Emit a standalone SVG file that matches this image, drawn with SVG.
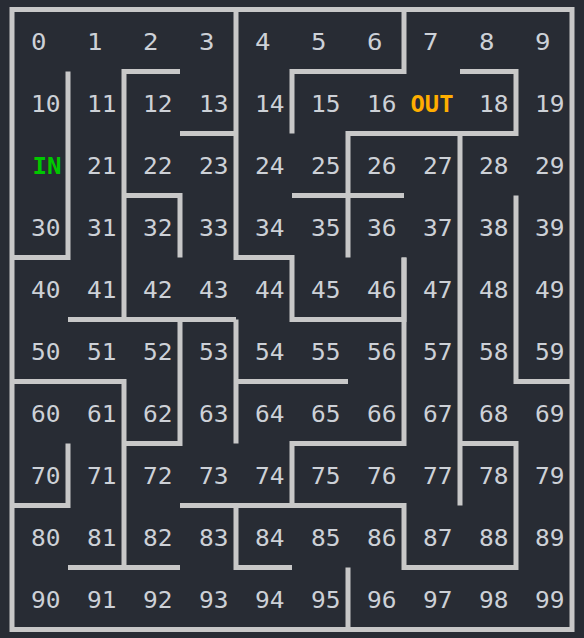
<svg xmlns="http://www.w3.org/2000/svg" width="584" height="638" viewBox="0 0 584 638">
<style>
.w{fill:none;stroke:#c8c8c8;stroke-width:5;stroke-linecap:butt;stroke-linejoin:miter}
.t{font-family:"DejaVu Sans Mono",monospace;font-size:23px;fill:#cdd1d7}
.in{font-family:"DejaVu Sans Mono",monospace;font-size:23px;font-weight:bold;fill:#00c800}
.out{font-family:"DejaVu Sans Mono",monospace;font-size:23px;font-weight:bold;fill:#ffae00}
</style>
<rect width="584" height="638" fill="#282c34"/>
<g id="walls">
<rect class="w" x="12" y="9.5" width="560" height="620"/>
<path class="w" d="M68,71.5V257.5H12"/>
<path class="w" d="M180,71.5H124V319.5"/>
<path class="w" d="M68,319.5H236"/>
<path class="w" d="M236,9.5V257.5H292V319.5H404V257.5"/>
<path class="w" d="M180,133.5H236"/>
<path class="w" d="M124,195.5H180V257.5"/>
<path class="w" d="M404,9.5V71.5H292V133.5"/>
<path class="w" d="M460,71.5H516V133.5H348V257.5"/>
<path class="w" d="M292,195.5H404"/>
<path class="w" d="M460,133.5V505.5"/>
<path class="w" d="M516,195.5V381.5H572"/>
<path class="w" d="M236,319.5V443.5"/>
<path class="w" d="M236,381.5H348"/>
<path class="w" d="M180,319.5V443.5H124"/>
<path class="w" d="M12,381.5H124V567.5"/>
<path class="w" d="M68,443.5V505.5H12"/>
<path class="w" d="M68,567.5H180"/>
<path class="w" d="M180,505.5H404V567.5H516V443.5H460"/>
<path class="w" d="M236,505.5V567.5H292"/>
<path class="w" d="M348,567.5V629.5"/>
<path class="w" d="M404,257.5V443.5H292V505.5"/>
</g>
<g id="labels">
<g id="row0">
<text class="t" x="31" y="50" textLength="15.5" lengthAdjust="spacingAndGlyphs">0</text><text class="t" x="87" y="50" textLength="15.5" lengthAdjust="spacingAndGlyphs">1</text><text class="t" x="143" y="50" textLength="15.5" lengthAdjust="spacingAndGlyphs">2</text><text class="t" x="199" y="50" textLength="15.5" lengthAdjust="spacingAndGlyphs">3</text><text class="t" x="255" y="50" textLength="15.5" lengthAdjust="spacingAndGlyphs">4</text><text class="t" x="311" y="50" textLength="15.5" lengthAdjust="spacingAndGlyphs">5</text><text class="t" x="367" y="50" textLength="15.5" lengthAdjust="spacingAndGlyphs">6</text><text class="t" x="423" y="50" textLength="15.5" lengthAdjust="spacingAndGlyphs">7</text><text class="t" x="479" y="50" textLength="15.5" lengthAdjust="spacingAndGlyphs">8</text><text class="t" x="535" y="50" textLength="15.5" lengthAdjust="spacingAndGlyphs">9</text>
</g>
<g id="row1">
<text class="t" x="31" y="112" textLength="29.5" lengthAdjust="spacingAndGlyphs">10</text><text class="t" x="87" y="112" textLength="29.5" lengthAdjust="spacingAndGlyphs">11</text><text class="t" x="143" y="112" textLength="29.5" lengthAdjust="spacingAndGlyphs">12</text><text class="t" x="199" y="112" textLength="29.5" lengthAdjust="spacingAndGlyphs">13</text><text class="t" x="255" y="112" textLength="29.5" lengthAdjust="spacingAndGlyphs">14</text><text class="t" x="311" y="112" textLength="29.5" lengthAdjust="spacingAndGlyphs">15</text><text class="t" x="367" y="112" textLength="29.5" lengthAdjust="spacingAndGlyphs">16</text><text class="out" id="out" x="410.5" y="112" textLength="43" lengthAdjust="spacingAndGlyphs">OUT</text><text class="t" x="479" y="112" textLength="29.5" lengthAdjust="spacingAndGlyphs">18</text><text class="t" x="535" y="112" textLength="29.5" lengthAdjust="spacingAndGlyphs">19</text>
</g>
<g id="row2">
<text class="in" id="in" x="32.5" y="174" textLength="29" lengthAdjust="spacingAndGlyphs">IN</text><text class="t" x="87" y="174" textLength="29.5" lengthAdjust="spacingAndGlyphs">21</text><text class="t" x="143" y="174" textLength="29.5" lengthAdjust="spacingAndGlyphs">22</text><text class="t" x="199" y="174" textLength="29.5" lengthAdjust="spacingAndGlyphs">23</text><text class="t" x="255" y="174" textLength="29.5" lengthAdjust="spacingAndGlyphs">24</text><text class="t" x="311" y="174" textLength="29.5" lengthAdjust="spacingAndGlyphs">25</text><text class="t" x="367" y="174" textLength="29.5" lengthAdjust="spacingAndGlyphs">26</text><text class="t" x="423" y="174" textLength="29.5" lengthAdjust="spacingAndGlyphs">27</text><text class="t" x="479" y="174" textLength="29.5" lengthAdjust="spacingAndGlyphs">28</text><text class="t" x="535" y="174" textLength="29.5" lengthAdjust="spacingAndGlyphs">29</text>
</g>
<g id="row3">
<text class="t" x="31" y="236" textLength="29.5" lengthAdjust="spacingAndGlyphs">30</text><text class="t" x="87" y="236" textLength="29.5" lengthAdjust="spacingAndGlyphs">31</text><text class="t" x="143" y="236" textLength="29.5" lengthAdjust="spacingAndGlyphs">32</text><text class="t" x="199" y="236" textLength="29.5" lengthAdjust="spacingAndGlyphs">33</text><text class="t" x="255" y="236" textLength="29.5" lengthAdjust="spacingAndGlyphs">34</text><text class="t" x="311" y="236" textLength="29.5" lengthAdjust="spacingAndGlyphs">35</text><text class="t" x="367" y="236" textLength="29.5" lengthAdjust="spacingAndGlyphs">36</text><text class="t" x="423" y="236" textLength="29.5" lengthAdjust="spacingAndGlyphs">37</text><text class="t" x="479" y="236" textLength="29.5" lengthAdjust="spacingAndGlyphs">38</text><text class="t" x="535" y="236" textLength="29.5" lengthAdjust="spacingAndGlyphs">39</text>
</g>
<g id="row4">
<text class="t" x="31" y="297.5" textLength="29.5" lengthAdjust="spacingAndGlyphs">40</text><text class="t" x="87" y="297.5" textLength="29.5" lengthAdjust="spacingAndGlyphs">41</text><text class="t" x="143" y="297.5" textLength="29.5" lengthAdjust="spacingAndGlyphs">42</text><text class="t" x="199" y="297.5" textLength="29.5" lengthAdjust="spacingAndGlyphs">43</text><text class="t" x="255" y="297.5" textLength="29.5" lengthAdjust="spacingAndGlyphs">44</text><text class="t" x="311" y="297.5" textLength="29.5" lengthAdjust="spacingAndGlyphs">45</text><text class="t" x="367" y="297.5" textLength="29.5" lengthAdjust="spacingAndGlyphs">46</text><text class="t" x="423" y="297.5" textLength="29.5" lengthAdjust="spacingAndGlyphs">47</text><text class="t" x="479" y="297.5" textLength="29.5" lengthAdjust="spacingAndGlyphs">48</text><text class="t" x="535" y="297.5" textLength="29.5" lengthAdjust="spacingAndGlyphs">49</text>
</g>
<g id="row5">
<text class="t" x="31" y="359.5" textLength="29.5" lengthAdjust="spacingAndGlyphs">50</text><text class="t" x="87" y="359.5" textLength="29.5" lengthAdjust="spacingAndGlyphs">51</text><text class="t" x="143" y="359.5" textLength="29.5" lengthAdjust="spacingAndGlyphs">52</text><text class="t" x="199" y="359.5" textLength="29.5" lengthAdjust="spacingAndGlyphs">53</text><text class="t" x="255" y="359.5" textLength="29.5" lengthAdjust="spacingAndGlyphs">54</text><text class="t" x="311" y="359.5" textLength="29.5" lengthAdjust="spacingAndGlyphs">55</text><text class="t" x="367" y="359.5" textLength="29.5" lengthAdjust="spacingAndGlyphs">56</text><text class="t" x="423" y="359.5" textLength="29.5" lengthAdjust="spacingAndGlyphs">57</text><text class="t" x="479" y="359.5" textLength="29.5" lengthAdjust="spacingAndGlyphs">58</text><text class="t" x="535" y="359.5" textLength="29.5" lengthAdjust="spacingAndGlyphs">59</text>
</g>
<g id="row6">
<text class="t" x="31" y="421.5" textLength="29.5" lengthAdjust="spacingAndGlyphs">60</text><text class="t" x="87" y="421.5" textLength="29.5" lengthAdjust="spacingAndGlyphs">61</text><text class="t" x="143" y="421.5" textLength="29.5" lengthAdjust="spacingAndGlyphs">62</text><text class="t" x="199" y="421.5" textLength="29.5" lengthAdjust="spacingAndGlyphs">63</text><text class="t" x="255" y="421.5" textLength="29.5" lengthAdjust="spacingAndGlyphs">64</text><text class="t" x="311" y="421.5" textLength="29.5" lengthAdjust="spacingAndGlyphs">65</text><text class="t" x="367" y="421.5" textLength="29.5" lengthAdjust="spacingAndGlyphs">66</text><text class="t" x="423" y="421.5" textLength="29.5" lengthAdjust="spacingAndGlyphs">67</text><text class="t" x="479" y="421.5" textLength="29.5" lengthAdjust="spacingAndGlyphs">68</text><text class="t" x="535" y="421.5" textLength="29.5" lengthAdjust="spacingAndGlyphs">69</text>
</g>
<g id="row7">
<text class="t" x="31" y="483.5" textLength="29.5" lengthAdjust="spacingAndGlyphs">70</text><text class="t" x="87" y="483.5" textLength="29.5" lengthAdjust="spacingAndGlyphs">71</text><text class="t" x="143" y="483.5" textLength="29.5" lengthAdjust="spacingAndGlyphs">72</text><text class="t" x="199" y="483.5" textLength="29.5" lengthAdjust="spacingAndGlyphs">73</text><text class="t" x="255" y="483.5" textLength="29.5" lengthAdjust="spacingAndGlyphs">74</text><text class="t" x="311" y="483.5" textLength="29.5" lengthAdjust="spacingAndGlyphs">75</text><text class="t" x="367" y="483.5" textLength="29.5" lengthAdjust="spacingAndGlyphs">76</text><text class="t" x="423" y="483.5" textLength="29.5" lengthAdjust="spacingAndGlyphs">77</text><text class="t" x="479" y="483.5" textLength="29.5" lengthAdjust="spacingAndGlyphs">78</text><text class="t" x="535" y="483.5" textLength="29.5" lengthAdjust="spacingAndGlyphs">79</text>
</g>
<g id="row8">
<text class="t" x="31" y="545.5" textLength="29.5" lengthAdjust="spacingAndGlyphs">80</text><text class="t" x="87" y="545.5" textLength="29.5" lengthAdjust="spacingAndGlyphs">81</text><text class="t" x="143" y="545.5" textLength="29.5" lengthAdjust="spacingAndGlyphs">82</text><text class="t" x="199" y="545.5" textLength="29.5" lengthAdjust="spacingAndGlyphs">83</text><text class="t" x="255" y="545.5" textLength="29.5" lengthAdjust="spacingAndGlyphs">84</text><text class="t" x="311" y="545.5" textLength="29.5" lengthAdjust="spacingAndGlyphs">85</text><text class="t" x="367" y="545.5" textLength="29.5" lengthAdjust="spacingAndGlyphs">86</text><text class="t" x="423" y="545.5" textLength="29.5" lengthAdjust="spacingAndGlyphs">87</text><text class="t" x="479" y="545.5" textLength="29.5" lengthAdjust="spacingAndGlyphs">88</text><text class="t" x="535" y="545.5" textLength="29.5" lengthAdjust="spacingAndGlyphs">89</text>
</g>
<g id="row9">
<text class="t" x="31" y="607.5" textLength="29.5" lengthAdjust="spacingAndGlyphs">90</text><text class="t" x="87" y="607.5" textLength="29.5" lengthAdjust="spacingAndGlyphs">91</text><text class="t" x="143" y="607.5" textLength="29.5" lengthAdjust="spacingAndGlyphs">92</text><text class="t" x="199" y="607.5" textLength="29.5" lengthAdjust="spacingAndGlyphs">93</text><text class="t" x="255" y="607.5" textLength="29.5" lengthAdjust="spacingAndGlyphs">94</text><text class="t" x="311" y="607.5" textLength="29.5" lengthAdjust="spacingAndGlyphs">95</text><text class="t" x="367" y="607.5" textLength="29.5" lengthAdjust="spacingAndGlyphs">96</text><text class="t" x="423" y="607.5" textLength="29.5" lengthAdjust="spacingAndGlyphs">97</text><text class="t" x="479" y="607.5" textLength="29.5" lengthAdjust="spacingAndGlyphs">98</text><text class="t" x="535" y="607.5" textLength="29.5" lengthAdjust="spacingAndGlyphs">99</text>
</g>
</g>
</svg>
